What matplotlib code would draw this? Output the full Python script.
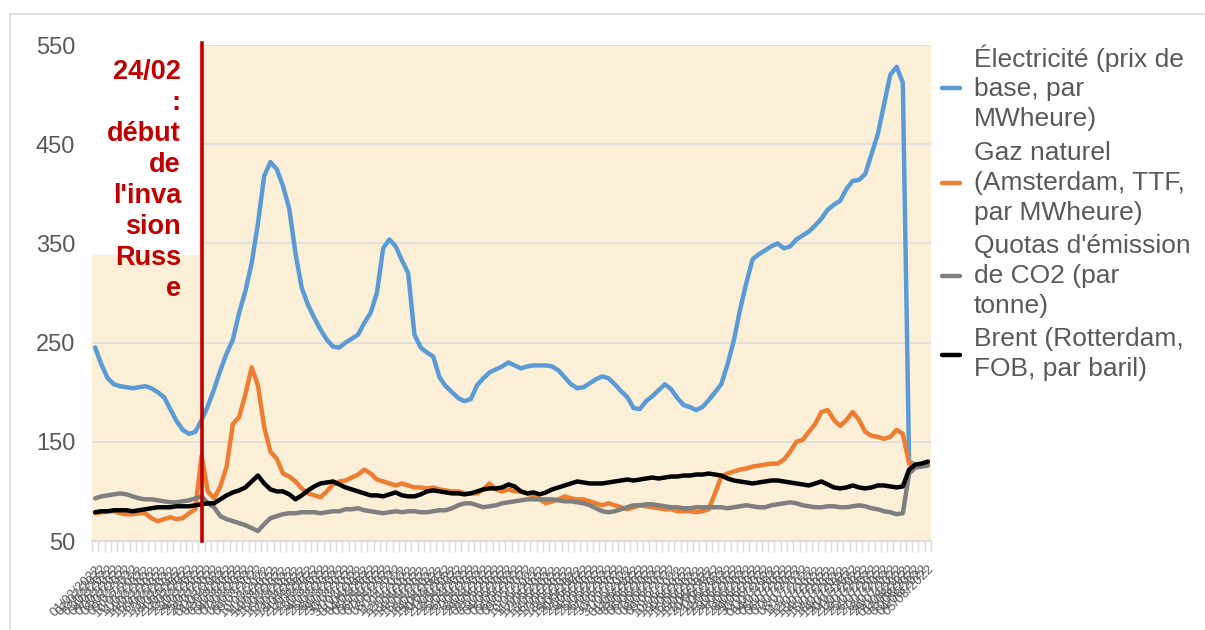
import matplotlib
matplotlib.use('Agg')
import matplotlib.pyplot as plt
import numpy as np
import pandas as pd
from matplotlib.patches import Rectangle

plt.rcParams['font.family'] = ['Liberation Sans', 'DejaVu Sans']

electricite = [245, 228, 214, 208, 206, 205, 204, 205, 206, 204,
               200, 195, 183, 171, 162, 158, 160, 172, 186, 203,
               222, 239, 253, 280, 302, 330, 370, 418, 432, 425,
               408, 385, 340, 305, 288, 275, 263, 253, 246, 245,
               250, 254, 258, 270, 280, 300, 345, 354, 347, 333,
               320, 258, 245, 240, 236, 215, 206, 200, 194, 191,
               193, 207, 214, 220, 223, 226, 230, 227, 224, 226,
               227, 227, 227, 226, 222, 215, 208, 204, 205, 209,
               213, 216, 214, 208, 201, 195, 184, 183, 191, 196,
               202, 208, 203, 194, 187, 185, 182, 185, 192, 200,
               208, 228, 252, 283, 310, 334, 339, 343, 347, 350,
               345, 347, 354, 358, 362, 368, 375, 384, 389, 393,
               405, 413, 414, 420, 440, 460, 490, 520, 528, 512,
               130, 127, 128, 130]

gaz = [78, 79, 80, 80, 78, 77, 77, 78, 78, 73,
       70, 72, 74, 72, 73, 78, 82, 136, 100, 93,
       105, 125, 168, 175, 198, 225, 207, 165, 140, 133,
       118, 115, 110, 103, 98, 96, 94, 100, 107, 110,
       111, 114, 117, 122, 118, 112, 110, 108, 106, 108,
       106, 104, 104, 103, 104, 102, 101, 100, 100, 98,
       98, 98, 102, 108, 102, 100, 102, 100, 100, 98,
       95, 92, 88, 90, 92, 95, 93, 92, 92, 90,
       88, 86, 88, 86, 84, 82, 84, 86, 85, 84,
       83, 82, 82, 80, 80, 80, 79, 80, 82, 98,
       115, 118, 120, 122, 123, 125, 126, 127, 128, 128,
       132, 140, 150, 152, 160, 168, 180, 182, 172, 166,
       172, 180, 172, 160, 156, 155, 153, 155, 162, 158,
       128, 126, 127, 128]

co2 = [93, 95, 96, 97, 98, 97, 95, 93, 92, 92,
       91, 90, 89, 89, 90, 91, 93, 95, 88, 84,
       75, 72, 70, 68, 66, 63, 60, 67, 73, 75,
       77, 78, 78, 79, 79, 79, 78, 79, 80, 80,
       82, 82, 83, 81, 80, 79, 78, 79, 80, 79,
       80, 80, 79, 79, 80, 81, 81, 83, 86, 88,
       88, 86, 84, 85, 86, 88, 89, 90, 91, 92,
       92, 92, 92, 92, 91, 90, 90, 89, 88, 86,
       83, 80, 79, 80, 82, 84, 86, 86, 87, 87,
       86, 85, 84, 84, 83, 83, 84, 84, 84, 84,
       84, 83, 84, 85, 86, 85, 84, 84, 86, 87,
       88, 89, 88, 86, 85, 84, 84, 85, 85, 84,
       84, 85, 86, 85, 83, 82, 80, 79, 77, 78,
       118, 124, 125, 126]

brent = [79, 80, 80, 81, 81, 81, 80, 81, 82, 83,
         84, 84, 84, 85, 85, 85, 86, 87, 88, 88,
         92, 96, 99, 101, 104, 110, 116, 108, 102, 100,
         100, 97, 92, 96, 101, 105, 108, 109, 110, 107,
         104, 102, 100, 98, 96, 96, 95, 97, 99, 96,
         95, 95, 97, 100, 101, 100, 99, 98, 98, 97,
         98, 100, 102, 103, 103, 104, 107, 105, 100, 98,
         99, 97, 99, 102, 104, 106, 108, 110, 109, 108,
         108, 108, 109, 110, 111, 112, 111, 112, 113, 114,
         113, 114, 115, 115, 116, 116, 117, 117, 118, 117,
         116, 113, 111, 110, 109, 108, 109, 110, 111, 111,
         110, 109, 108, 107, 106, 108, 110, 107, 104, 103,
         104, 106, 104, 103, 104, 106, 106, 105, 104, 105,
         122, 127, 128, 130]

series_labels = ["Électricité (prix de\nbase, par\nMWheure)",
                 "Gaz naturel\n(Amsterdam, TTF,\npar MWheure)",
                 "Quotas d'émission\nde CO2 (par\ntonne)",
                 "Brent (Rotterdam,\nFOB, par baril)"]
series_colors = ['#5B9BD5', '#ED7D31', '#7F7F7F', '#000000']

y_ticks = [50, 150, 250, 350, 450, 550]
N = len(electricite)
date_labels = pd.bdate_range('2022-02-01', periods=N).strftime('%d/%m/%Y').tolist()
invasion_date = '24/02/2022'
invasion_text = "24/02\n:\ndébut\nde\nl'inva\nsion\nRuss\ne"

W, H = 1205, 630
fig = plt.figure(figsize=(W / 100, H / 100), dpi=100)
fig.patch.set_facecolor('white')

# chart area border
fig.add_artist(Rectangle((10 / W, -0.05), 1.2, (H - 14) / H + 0.05,
                         transform=fig.transFigure, fill=False,
                         edgecolor='#D9D9D9', lw=1.2))

ax = fig.add_axes([92 / W, (H - 541) / H, (931 - 92) / W, 496 / H])
ax.set_facecolor('#FCEFD8')

x = np.arange(N)
for vals, lab, col in zip([electricite, gaz, co2, brent], series_labels, series_colors):
    ax.plot(x, vals, color=col, lw=3.2, label=lab, zorder=3,
            solid_joinstyle='round', solid_capstyle='round')

ax.set_xlim(-0.5, N - 0.5)
ax.set_ylim(50, 550)
ax.set_yticks(y_ticks)
ax.set_yticklabels([str(v) for v in y_ticks], fontsize=17, color='#595959')
ax.tick_params(axis='y', length=0, pad=12)
ax.yaxis.grid(True, color='#DCDCDC', lw=1.2, zorder=0)
ax.set_axisbelow(True)

ax.set_xticks(x)
ax.set_xticklabels(date_labels, rotation=45, ha='right', va='top',
                   rotation_mode='anchor', fontsize=9.5, color='#595959')
ax.tick_params(axis='x', which='major', length=0, pad=16)
ax.set_xticks(np.arange(-0.5, N, 1.0), minor=True)
ax.tick_params(axis='x', which='minor', length=8, color='#D9D9D9', width=1)

for s in ['top', 'right', 'left']:
    ax.spines[s].set_visible(False)
ax.spines['bottom'].set_color('#D9D9D9')
ax.spines['bottom'].set_linewidth(1.2)

# white box behind annotation
ax.add_patch(Rectangle((0, 0.577), (199 - 92) / (931 - 92), 0.43,
                       transform=ax.transAxes, facecolor='white',
                       edgecolor='none', zorder=4, clip_on=False))

inv_idx = date_labels.index(invasion_date)
ax.axvline(inv_idx, ymin=0, ymax=1.005, color='#C00000', lw=2.6, zorder=6, clip_on=False)

fig.text(181 / W, 1 - 59 / H, invasion_text, ha='right', va='top',
         fontsize=19.5, fontweight='bold', color='#C00000', linespacing=1.25,
         multialignment='right', zorder=7)

leg = fig.legend(*ax.get_legend_handles_labels(), loc='upper left',
                 bbox_to_anchor=(942 / W, 1 - 44 / H), frameon=False, fontsize=19,
                 handlelength=0.7, handletextpad=0.5, labelspacing=0.36,
                 borderaxespad=0, borderpad=0, labelcolor='#595959')
for t in leg.get_texts():
    t.set_linespacing(1.31)

fig.savefig('out.png', dpi=100, facecolor='white')
